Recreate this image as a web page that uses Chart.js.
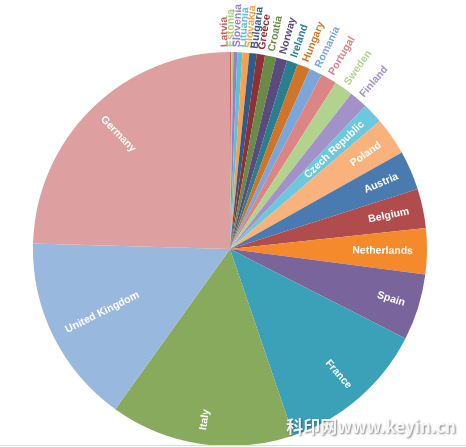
<!DOCTYPE html>
<html>
<head>
<meta charset="utf-8">
<script src="https://cdn.jsdelivr.net/npm/chart.js@4/dist/chart.umd.min.js"></script>
<style>
  html, body { margin: 0; padding: 0; background: #fff; }
  #wrap { width: 466px; height: 447px; position: relative; }
</style>
</head>
<body>
<div id="wrap"><canvas id="pie" width="466" height="447"></canvas></div>
<script>
// Share of the EU total by country (%), in drawing order starting at 12 o'clock
const countries = [
  'Latvia', 'Estonia', 'Slovenia', 'Lituania', 'Slovakia', 'Bulgaria', 'Greece',
  'Croatia', 'Norway', 'Ireland', 'Hungary', 'Romania', 'Portugal', 'Sweden',
  'Finland', 'Czech Republic', 'Poland', 'Austria', 'Belgium', 'Netherlands',
  'Spain', 'France', 'Italy', 'United Kingdom', 'Germany'
];
const shares = [
  0.11, 0.17, 0.31, 0.42, 0.56, 0.61, 0.67,
  0.92, 0.92, 0.89, 1.06, 1.06, 1.33, 1.53,
  1.50, 1.69, 3.11, 3.22, 3.22, 3.78,
  5.44, 12.28, 15.11, 15.56, 24.56
];
const sliceColors = [
  '#d06262', '#a6cf7e', '#9a7ec8', '#5cc0d8', '#f7a14e', '#2f5b8c', '#8c3232',
  '#6a8b48', '#5b4a7e', '#2a7f8e', '#d07528', '#7aa6da', '#dc8585', '#b1d38d',
  '#a392c8', '#6cc8dc', '#f9b27c', '#4a7bb0', '#b04c4c', '#f58a2c',
  '#7a649c', '#3aa1b8', '#88aa5c', '#98b8de', '#dd9f9f'
];

// Slices smaller than this get their label outside the pie
const OUTER_LIMIT = 1.6;
const LABEL_FONT = 'bold 10.5px "Liberation Sans", Arial, Helvetica, sans-serif';

const radialLabels = {
  id: 'radialLabels',
  afterDatasetsDraw(chart) {
    const ctx = chart.ctx;
    const arcs = chart.getDatasetMeta(0).data;
    const items = arcs.map((arc, i) => {
      const p = arc.getProps(['x', 'y', 'startAngle', 'endAngle', 'outerRadius'], true);
      const mid = (p.startAngle + p.endAngle) / 2;
      return { i, p, mid, ang: mid, outer: shares[i] < OUTER_LIMIT };
    });

    // spread the outside labels so neighbouring texts do not overlap
    const outer = items.filter(it => it.outer);
    const minGap = 1.7 * Math.PI / 180;
    for (let iter = 0; iter < 500; iter++) {
      let moved = false;
      for (let k = 0; k < outer.length - 1; k++) {
        const a = outer[k], b = outer[k + 1];
        const gap = b.ang - a.ang;
        if (gap < minGap - 1e-7) {
          const d = (minGap - gap) / 2;
          a.ang -= d; b.ang += d; moved = true;
        }
      }
      if (!moved) break;
    }

    ctx.save();
    ctx.font = LABEL_FONT;
    ctx.textBaseline = 'middle';
    items.forEach(it => {
      const { p, i } = it;
      const ang = it.ang;
      const readsOutward = it.outer || Math.cos(it.mid) >= 0;
      const r = it.outer ? p.outerRadius + 5 : p.outerRadius - 14;
      ctx.save();
      ctx.translate(p.x + Math.cos(ang) * r, p.y + Math.sin(ang) * r);
      ctx.rotate(readsOutward ? ang : ang + Math.PI);
      if (it.outer) {
        ctx.textAlign = 'left';
        ctx.fillStyle = sliceColors[i];
      } else {
        ctx.textAlign = readsOutward ? 'right' : 'left';
        ctx.fillStyle = '#ffffff';
      }
      ctx.fillText(countries[i], 0, 0);
      ctx.restore();
    });
    ctx.restore();
  },
  afterDraw(chart) {
    const ctx = chart.ctx;
    ctx.save();
    // thin frame line along the bottom
    ctx.strokeStyle = '#dcdcdc';
    ctx.lineWidth = 1;
    ctx.beginPath();
    ctx.moveTo(0, 445.5);
    ctx.lineTo(466, 445.5);
    ctx.stroke();
    // site mark
    ctx.font = 'bold 17px "Noto Sans CJK SC", "Liberation Sans", sans-serif';
    ctx.textAlign = 'right';
    ctx.textBaseline = 'alphabetic';
    ctx.shadowColor = 'rgba(60,60,60,0.7)';
    ctx.shadowBlur = 2;
    ctx.shadowOffsetX = 1;
    ctx.shadowOffsetY = 1;
    ctx.fillStyle = 'rgba(255,255,255,0.9)';
    ctx.fillText('科印网www.keyin.cn', 456, 433);
    ctx.restore();
  }
};

new Chart(document.getElementById('pie'), {
  type: 'pie',
  data: {
    labels: countries,
    datasets: [{
      data: shares,
      backgroundColor: sliceColors,
      borderWidth: 0,
      hoverBorderWidth: 0,
      offset: 0,
      hoverOffset: 0
    }]
  },
  options: {
    responsive: false,
    animation: false,
    events: [],
    layout: { padding: { left: 33, right: 39, top: 52, bottom: 1 } },
    plugins: {
      legend: { display: false },
      tooltip: { enabled: false },
      title: { display: false }
    }
  },
  plugins: [radialLabels]
});
</script>
</body>
</html>
